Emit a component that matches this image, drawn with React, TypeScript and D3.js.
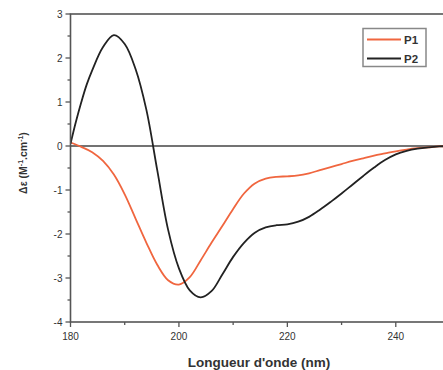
import React from "react";
import * as d3 from "d3";

const wavelengths = [180,182,184,186,188,190,192,194,196,198,200,202,204,206,208,210,212,214,216,218,220,222,224,226,228,230,232,234,236,238,240,242,244,246,248,250];
const p1Values = [0.08,-0.02,-0.14,-0.34,-0.65,-1.1,-1.65,-2.2,-2.7,-3.05,-3.15,-2.98,-2.6,-2.2,-1.82,-1.43,-1.08,-0.85,-0.74,-0.7,-0.69,-0.67,-0.62,-0.55,-0.48,-0.41,-0.34,-0.28,-0.22,-0.17,-0.12,-0.08,-0.05,-0.03,-0.01,0];
const p2Wavelengths = [180,181,182,183,184,186,188,190,192,194,196,198,200,202,204,206,208,210,212,214,216,218,220,222,224,226,228,230,232,234,236,238,240,242,244,246,248,250];
const p2Values = [0.05,0.55,1.0,1.4,1.72,2.25,2.52,2.32,1.75,0.82,-0.55,-1.9,-2.78,-3.28,-3.44,-3.3,-2.92,-2.52,-2.2,-1.97,-1.85,-1.8,-1.78,-1.72,-1.61,-1.45,-1.27,-1.08,-0.88,-0.68,-0.49,-0.32,-0.19,-0.11,-0.06,-0.03,-0.01,0];
const xMajorTicks = [180,200,220,240];
const xMinorTicks = [190,210,230];
const yMajorTicks = [3,2,1,0,-1,-2,-3,-4];
const yMinorTicks = [2.5,1.5,0.5,-0.5,-1.5,-2.5,-3.5];
const seriesNames = ["P1","P2"];
const seriesColors = ["#f0663f","#222222"];

export default function App() {
  const W = 443, H = 370;
  const left = 70.5, right = 450, top = 14, bottom = 322;
  const x = d3.scaleLinear().domain([180, 250]).range([left, right]);
  const y = d3.scaleLinear().domain([-4, 3]).range([bottom, top]);
  const line = d3.line<[number, number]>().x(d => x(d[0])).y(d => y(d[1])).curve(d3.curveCatmullRom.alpha(0.5));
  const p1 = line(wavelengths.map((w, i) => [w, p1Values[i]]));
  const p2 = line(p2Wavelengths.map((w, i) => [w, p2Values[i]]));
  const axisColor = "#555";
  const font = "Liberation Sans, Arial, sans-serif";
  return (
    <svg width={W} height={H} style={{ position: "absolute", left: 0, top: 0, background: "#fff" }} fontFamily={font}>
      <defs>
        <clipPath id="plot"><rect x={left} y={top} width={right - left} height={bottom - top} /></clipPath>
      </defs>
      <line x1={left} x2={right} y1={y(0)} y2={y(0)} stroke="#444" strokeWidth={1.5} />
      <g clipPath="url(#plot)" fill="none" strokeWidth={1.8}>
        <path d={p1 || ""} stroke={seriesColors[0]} />
        <path d={p2 || ""} stroke={seriesColors[1]} />
      </g>
      <rect x={left} y={top} width={right - left} height={bottom - top} fill="none" stroke={axisColor} strokeWidth={1.6} />
      {yMajorTicks.map(t => (
        <g key={"y" + t}>
          <line x1={left - 5} x2={left} y1={y(t)} y2={y(t)} stroke={axisColor} strokeWidth={1.3} />
          <text x={left - 8} y={y(t)} dy="0.35em" textAnchor="end" fontSize={10} fill="#333">{t}</text>
        </g>
      ))}
      {yMinorTicks.map(t => (
        <line key={"ym" + t} x1={left - 3} x2={left} y1={y(t)} y2={y(t)} stroke={axisColor} strokeWidth={1.3} />
      ))}
      {xMajorTicks.map(t => (
        <g key={"x" + t}>
          <line x1={x(t)} x2={x(t)} y1={bottom} y2={bottom + 5} stroke={axisColor} strokeWidth={1.3} />
          <text x={x(t)} y={bottom + 17.5} textAnchor="middle" fontSize={10} fill="#333">{t}</text>
        </g>
      ))}
      {xMinorTicks.map(t => (
        <line key={"xm" + t} x1={x(t)} x2={x(t)} y1={bottom} y2={bottom + 3} stroke={axisColor} strokeWidth={1.3} />
      ))}
      <text x={259} y={362} dy="0.35em" textAnchor="middle" fontSize={13.5} fontWeight="bold" fill="#333">Longueur d'onde (nm)</text>
      <text transform={`translate(27, 163) rotate(-90)`} textAnchor="middle" fontSize={10.5} fontWeight="bold" fill="#333">
        Δε (M<tspan fontSize={7} dy="-4">-1</tspan><tspan dy="4">.cm</tspan><tspan fontSize={7} dy="-4">-1</tspan><tspan dy="4">)</tspan>
      </text>
      <rect x={363} y={28.5} width={63} height={38} fill="#fff" stroke="#888" strokeWidth={1.5} />
      {seriesNames.map((n, i) => (
        <g key={n}>
          <line x1={367} x2={401} y1={39.5 + i * 19} y2={39.5 + i * 19} stroke={seriesColors[i]} strokeWidth={1.8} />
          <text x={404} y={39.5 + i * 19} dy="0.36em" fontSize={11.5} fontWeight="bold" fill="#333">{n}</text>
        </g>
      ))}
    </svg>
  );
}
